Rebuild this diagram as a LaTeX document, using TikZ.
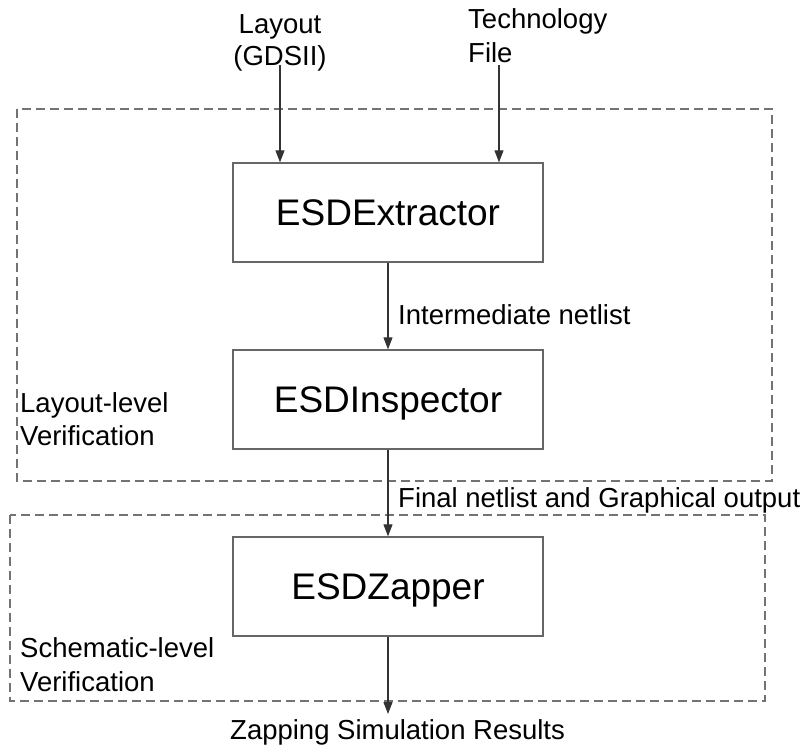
\documentclass[tikz,border=0pt]{standalone}
\usepackage{fontspec}
\setmainfont{Liberation Sans}
\usetikzlibrary{arrows.meta}

\tikzset{
  stagebox/.style={draw=black!60, line width=1.3pt, minimum width=310pt, minimum height=99pt,
    inner sep=0pt, text height=26.5pt, text depth=0pt,
    font=\fontsize{37}{40}\selectfont},
  lbl/.style={inner sep=0pt, font=\fontsize{27.5}{32}\selectfont},
  flow/.style={draw=black!80, line width=1.1pt, -{Triangle[length=12pt,width=9pt]}},
  region/.style={draw=black!55, line width=1.3pt, dash pattern=on 9pt off 5pt}
}

\begin{document}
\begin{tikzpicture}[x=1pt, y=-1pt]
  \useasboundingbox (0,0) rectangle (807,746);

  % verification regions
  \draw[region] (17,109) rectangle (772,481);
  \draw[region] (10,515) rectangle (765,701);

  % tool stages
  \node[stagebox] (ext) at (388,212.5) {ESDExtractor};
  \node[stagebox] (insp) at (388,399.5) {ESDInspector};
  \node[stagebox] (zap) at (388,586.5) {ESDZapper};

  % inputs
  \node[lbl, anchor=base] (layA) at (280,34) {Layout};
  \node[lbl, anchor=base] (layB) at (280,66) {(GDSII)};
  \node[lbl, anchor=base west] (techA) at (468,29) {Technology};
  \node[lbl, anchor=base west] (techB) at (468,63) {File};
  \coordinate (layin) at (280,65);
  \coordinate (techin) at (499,65);

  % region titles
  \node[lbl, anchor=base west] (llA) at (20,413) {Layout-level};
  \node[lbl, anchor=base west] (llB) at (20,446) {Verification};
  \node[lbl, anchor=base west] (slA) at (20,657) {Schematic-level};
  \node[lbl, anchor=base west] (slB) at (20,691) {Verification};

  % data flow
  \draw[flow] (layin) -- (layin |- ext.north);
  \draw[flow] (techin) -- (techin |- ext.north);
  \draw[flow] (ext) -- (insp);
  \draw[flow] (insp) -- (zap);
  \coordinate (out) at (388,714);
  \draw[flow] (zap) -- (out);

  % flow labels
  \node[lbl, anchor=base west] (mid) at (398,325) {Intermediate netlist};
  \node[lbl, anchor=base west] (fin) at (398,507) {Final netlist and Graphical output};
  \node[lbl, anchor=base west] (res) at (230,739) {Zapping Simulation Results};
\end{tikzpicture}
\end{document}
